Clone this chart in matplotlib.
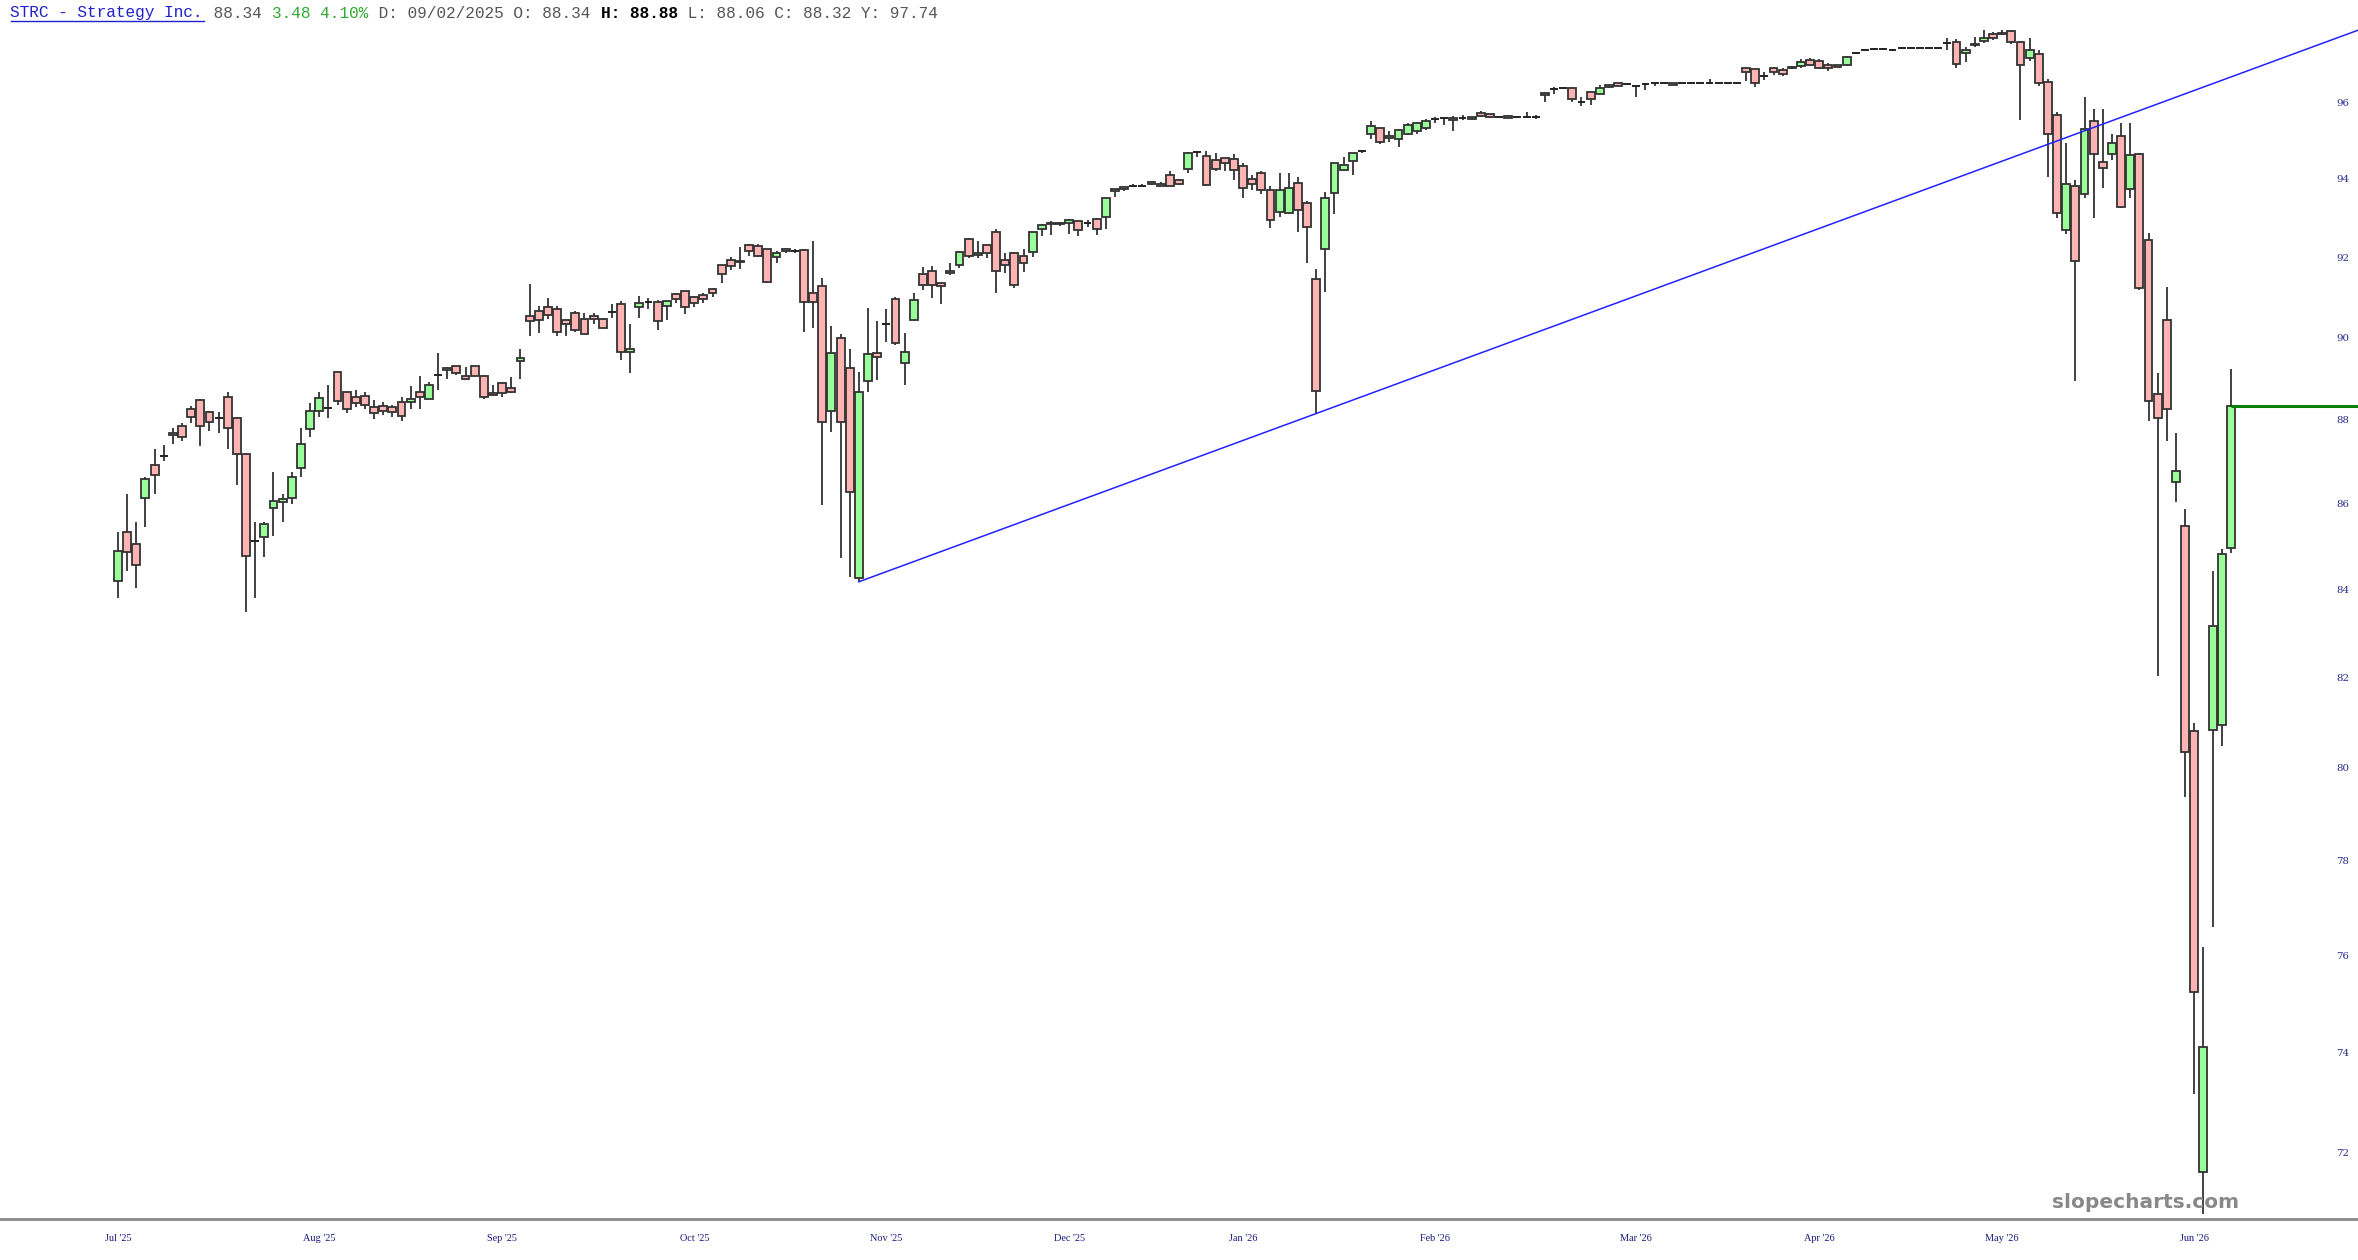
import numpy as np
import matplotlib
matplotlib.use("Agg")
import matplotlib.pyplot as plt
from matplotlib.patches import Rectangle
from matplotlib.ticker import NullLocator, NullFormatter

# daily OHLC, one value per trading session (index 1..232)
opens = [
    84.20, 85.33, 85.05, 86.14, 86.91, 87.13, 87.63, 87.85, 88.26, 88.47,
    88.18, 88.03, 88.54, 88.03, 87.18, 85.12, 85.22, 85.89, 86.04, 86.14,
    86.84, 87.78, 88.21, 88.29, 89.15, 88.66, 88.54, 88.57, 88.30, 88.34,
    88.30, 88.42, 88.42, 88.68, 88.51, 89.08, 89.20, 89.30, 89.07, 89.30,
    89.07, 88.65, 88.88, 88.78, 89.42, 90.54, 90.65, 90.77, 90.70, 90.43,
    90.61, 90.47, 90.54, 90.47, 90.63, 90.83, 89.65, 90.76, 90.89, 90.89,
    90.78, 91.08, 91.16, 91.02, 91.05, 91.20, 91.81, 91.93, 91.88, 92.32,
    92.30, 92.21, 92.00, 92.21, 92.17, 92.18, 91.12, 91.28, 88.20, 89.98,
    89.25, 84.26, 88.93, 89.62, 90.35, 90.96, 89.39, 90.44, 91.58, 91.67,
    91.35, 91.66, 91.80, 92.47, 92.05, 92.31, 92.65, 91.94, 92.12, 92.03,
    92.14, 92.71, 92.84, 92.88, 92.88, 92.91, 92.88, 92.97, 93.03, 93.68,
    93.74, 93.82, 93.83, 93.92, 93.83, 94.11, 93.98, 94.26, 94.70, 94.59,
    94.50, 94.53, 94.52, 94.34, 94.01, 94.14, 93.72, 93.15, 93.12, 93.90,
    93.37, 91.45, 92.22, 93.65, 94.22, 94.47, 94.71, 95.15, 95.32, 95.05,
    95.02, 95.16, 95.23, 95.31, 95.56, 95.59, 95.53, 95.59, 95.55, 95.72,
    95.68, 95.60, 95.59, 95.60, 95.60, 95.60, 96.19, 96.34, 96.38, 96.38,
    96.01, 96.26, 96.22, 96.39, 96.50, 96.47, 96.42, 96.48, 96.50, 96.51,
    96.46, 96.49, 96.49, 96.49, 96.49, 96.50, 96.50, 96.50, 96.90, 96.86,
    96.68, 96.89, 96.85, 96.92, 96.95, 97.10, 97.08, 96.97, 96.97, 96.97,
    97.30, 97.39, 97.41, 97.41, 97.39, 97.43, 97.44, 97.44, 97.44, 97.44,
    97.57, 97.60, 97.30, 97.50, 97.62, 97.80, 97.80, 97.88, 97.58, 97.16,
    97.28, 96.54, 95.67, 92.69, 93.81, 93.62, 95.50, 94.44, 94.65, 95.11,
    93.75, 94.65, 92.43, 88.63, 90.44, 86.52, 85.47, 80.80, 71.62, 80.84,
    80.95, 84.97,
]
highs = [
    85.34, 86.22, 85.56, 86.62, 87.29, 87.39, 87.80, 87.92, 88.34, 88.50,
    88.22, 88.19, 88.66, 88.06, 87.20, 85.56, 85.56, 86.75, 86.24, 86.75,
    87.80, 88.41, 88.66, 88.85, 89.17, 88.68, 88.71, 88.66, 88.47, 88.43,
    88.36, 88.56, 88.82, 89.07, 88.91, 89.62, 89.28, 89.31, 89.28, 89.31,
    89.08, 88.85, 88.91, 89.03, 89.73, 91.33, 90.79, 90.98, 90.79, 90.47,
    90.66, 90.60, 90.60, 90.48, 90.84, 90.90, 90.34, 91.03, 90.99, 90.93,
    90.92, 91.12, 91.17, 91.03, 91.12, 91.24, 91.82, 92.00, 92.27, 92.33,
    92.33, 92.22, 92.16, 92.24, 92.21, 92.20, 92.42, 91.48, 90.28, 90.09,
    89.73, 89.15, 90.73, 90.41, 90.71, 91.02, 90.12, 91.11, 91.77, 91.78,
    91.36, 91.85, 92.15, 92.48, 92.42, 92.32, 92.71, 92.11, 92.13, 92.22,
    92.65, 92.85, 92.91, 92.90, 92.98, 92.92, 92.95, 92.99, 93.51, 93.75,
    93.80, 93.86, 93.87, 93.95, 93.91, 94.21, 93.99, 94.69, 94.73, 94.73,
    94.68, 94.54, 94.64, 94.40, 94.10, 94.20, 93.81, 94.14, 94.14, 94.05,
    93.44, 91.72, 93.67, 94.42, 94.57, 94.68, 94.74, 95.50, 95.33, 95.24,
    95.29, 95.44, 95.48, 95.55, 95.60, 95.62, 95.63, 95.67, 95.61, 95.76,
    95.69, 95.63, 95.65, 95.61, 95.75, 95.65, 96.26, 96.40, 96.40, 96.39,
    96.14, 96.27, 96.45, 96.47, 96.51, 96.49, 96.43, 96.50, 96.53, 96.52,
    96.51, 96.50, 96.50, 96.50, 96.61, 96.51, 96.51, 96.51, 96.91, 96.87,
    96.80, 96.93, 96.91, 96.94, 97.13, 97.17, 97.15, 97.02, 96.99, 97.21,
    97.33, 97.41, 97.43, 97.43, 97.41, 97.45, 97.46, 97.46, 97.46, 97.46,
    97.70, 97.67, 97.45, 97.72, 97.91, 97.87, 97.91, 97.90, 97.63, 97.71,
    97.37, 96.60, 95.75, 94.94, 93.96, 96.14, 95.81, 95.81, 95.17, 95.44,
    95.46, 94.66, 92.62, 89.13, 91.27, 87.69, 85.87, 80.99, 76.16, 84.42,
    84.94, 89.22,
]
lows = [
    83.80, 84.44, 84.03, 85.46, 86.23, 87.00, 87.41, 87.49, 87.91, 87.38,
    87.72, 87.67, 87.29, 86.43, 83.49, 83.80, 84.76, 85.24, 85.58, 85.99,
    86.64, 87.58, 88.06, 88.03, 88.36, 88.16, 88.30, 88.25, 88.02, 88.12,
    88.07, 87.97, 88.26, 88.26, 88.50, 88.71, 88.98, 89.08, 88.97, 89.06,
    88.51, 88.57, 88.56, 88.65, 88.98, 90.05, 90.11, 90.46, 90.03, 90.05,
    90.13, 90.09, 90.35, 90.24, 90.48, 89.45, 89.14, 90.48, 90.71, 90.20,
    90.44, 90.87, 90.59, 90.76, 90.86, 91.02, 91.35, 91.68, 91.72, 92.04,
    92.02, 91.35, 91.87, 92.11, 92.11, 90.13, 90.25, 85.97, 87.70, 84.72,
    84.30, 84.18, 88.68, 88.96, 89.90, 89.81, 88.85, 90.42, 91.19, 90.99,
    90.83, 91.56, 91.73, 91.98, 91.98, 91.98, 91.11, 91.62, 91.23, 91.63,
    92.01, 92.53, 92.56, 92.80, 92.59, 92.53, 92.76, 92.56, 92.72, 93.54,
    93.68, 93.79, 93.81, 93.84, 93.81, 93.82, 93.84, 94.14, 94.57, 93.81,
    94.21, 94.21, 93.98, 93.50, 93.72, 93.60, 92.75, 93.03, 93.09, 92.65,
    91.85, 88.15, 91.14, 93.11, 94.20, 94.11, 94.68, 95.03, 94.90, 94.96,
    94.83, 95.14, 95.17, 95.27, 95.44, 95.40, 95.23, 95.53, 95.53, 95.62,
    95.58, 95.58, 95.58, 95.59, 95.58, 95.55, 96.01, 96.20, 96.35, 96.01,
    95.89, 95.91, 96.21, 96.38, 96.42, 96.45, 96.14, 96.31, 96.43, 96.50,
    96.45, 96.48, 96.48, 96.48, 96.48, 96.49, 96.49, 96.49, 96.55, 96.40,
    96.57, 96.71, 96.69, 96.87, 96.89, 96.96, 96.87, 96.83, 96.92, 96.96,
    97.26, 97.37, 97.39, 97.39, 97.37, 97.41, 97.42, 97.42, 97.42, 97.42,
    97.38, 96.90, 97.05, 97.47, 97.56, 97.64, 97.78, 97.53, 95.52, 97.08,
    96.41, 94.05, 92.99, 92.59, 88.93, 93.50, 92.99, 93.76, 94.48, 93.25,
    93.52, 91.18, 87.97, 82.04, 87.49, 86.04, 79.36, 73.16, 70.80, 76.58,
    80.48, 84.84,
]
closes = [
    84.89, 84.87, 84.56, 86.59, 86.68, 87.13, 87.67, 87.58, 88.07, 87.85,
    87.94, 88.03, 87.80, 87.18, 84.77, 85.12, 85.53, 86.07, 86.12, 86.62,
    87.41, 88.22, 88.52, 88.29, 88.46, 88.26, 88.40, 88.36, 88.16, 88.22,
    88.18, 88.08, 88.51, 88.56, 88.85, 89.08, 89.25, 89.13, 88.98, 89.07,
    88.54, 88.61, 88.64, 88.66, 89.49, 90.40, 90.44, 90.57, 90.15, 90.35,
    90.20, 90.10, 90.46, 90.25, 90.63, 89.65, 89.73, 90.87, 90.89, 90.40,
    90.92, 90.95, 90.76, 90.85, 90.97, 91.12, 91.58, 91.78, 91.90, 92.15,
    92.04, 91.39, 92.10, 92.15, 92.17, 90.89, 90.89, 87.94, 89.62, 87.94,
    86.27, 88.67, 89.60, 89.52, 90.35, 89.86, 89.64, 90.93, 91.30, 91.30,
    91.29, 91.61, 92.14, 92.03, 92.11, 92.11, 91.66, 91.81, 91.32, 91.86,
    92.64, 92.82, 92.88, 92.84, 92.96, 92.70, 92.88, 92.71, 93.50, 93.74,
    93.79, 93.82, 93.83, 93.87, 93.87, 93.83, 93.86, 94.68, 94.70, 93.85,
    94.26, 94.42, 94.22, 93.77, 93.88, 93.72, 92.96, 93.72, 93.77, 93.21,
    92.78, 88.70, 93.51, 94.42, 94.37, 94.68, 94.71, 95.38, 94.95, 95.10,
    95.26, 95.41, 95.44, 95.50, 95.56, 95.59, 95.58, 95.59, 95.60, 95.63,
    95.60, 95.60, 95.63, 95.60, 95.60, 95.60, 96.25, 96.34, 96.38, 96.08,
    96.01, 96.08, 96.36, 96.45, 96.43, 96.47, 96.42, 96.48, 96.50, 96.51,
    96.50, 96.49, 96.49, 96.49, 96.49, 96.50, 96.50, 96.50, 96.78, 96.51,
    96.68, 96.78, 96.74, 96.89, 97.05, 96.99, 96.89, 96.90, 96.93, 97.20,
    97.30, 97.39, 97.41, 97.41, 97.39, 97.43, 97.44, 97.44, 97.44, 97.44,
    97.57, 97.01, 97.39, 97.54, 97.70, 97.70, 97.84, 97.58, 96.97, 97.39,
    96.49, 95.16, 93.12, 93.88, 91.90, 95.30, 94.65, 94.28, 94.93, 93.27,
    94.62, 91.23, 88.46, 88.05, 88.26, 86.77, 80.35, 75.23, 74.11, 83.17,
    84.83, 88.32,
]

# month labels and the session they sit under
month_labels = ["Jul '25", "Aug '25", "Sep '25", "Oct '25", "Nov '25", "Dec '25",
                "Jan '26", "Feb '26", "Mar '26", "Apr '26", "May '26", "Jun '26"]
month_pos = [1, 23, 43, 64, 85, 105, 124, 145, 167, 187, 207, 228]

price_ticks = [72, 74, 76, 78, 80, 82, 84, 86, 88, 90, 92, 94, 96]

# trendline anchors (session, price) and last close marker
trend_a = (82, 84.18)
trend_b = (132, 88.15)
last_close = 88.32

x = np.arange(1, len(closes) + 1)

fig = plt.figure(figsize=(23.58, 12.60), dpi=100)
ax = fig.add_axes([0, 41 / 1260, 1, 1219 / 1260])

ax.set_yscale("log")
ax.set_xlim(-11.9, 245.9)
ax.set_ylim(70.70, 98.72)

edge = "#333333"
body_w = 0.86
for xi, o, h, l, c in zip(x, opens, highs, lows, closes):
    ax.vlines(xi, l, h, color=edge, lw=1.3, zorder=2)
    if c > o:
        ax.add_patch(Rectangle((xi - body_w / 2, o), body_w, c - o,
                               facecolor="#99ff99", edgecolor=edge, lw=1.3, zorder=3))
    elif c < o:
        ax.add_patch(Rectangle((xi - body_w / 2, c), body_w, o - c,
                               facecolor="#ffb3b3", edgecolor=edge, lw=1.3, zorder=3))
    else:
        ax.hlines(o, xi - body_w / 2, xi + body_w / 2, color="#222222", lw=1.4, zorder=3)

# blue trendline through the two lows, extended to the right edge
slope = (np.log(trend_b[1]) - np.log(trend_a[1])) / (trend_b[0] - trend_a[0])
tx = np.array([trend_a[0], 245.9])
ty = np.exp(np.log(trend_a[1]) + slope * (tx - trend_a[0]))
ax.plot(tx, ty, color="#2222ff", lw=1.1, zorder=4)

# green line at the last close
ax.hlines(last_close, x[-1], 245.9, color="#008000", lw=2.2, zorder=4)

# axes styling
for side in ["top", "left", "right"]:
    ax.spines[side].set_visible(False)
ax.spines["bottom"].set_color("#888888")
ax.spines["bottom"].set_linewidth(2.0)

ax.set_xticks(month_pos)
ax.set_xticklabels(month_labels, family="Liberation Serif", fontsize=7.4, color="#1a1a80")
ax.tick_params(axis="x", length=0, pad=11)

ax.yaxis.tick_right()
ax.yaxis.set_minor_locator(NullLocator())
ax.yaxis.set_minor_formatter(NullFormatter())
ax.set_yticks(price_ticks)
ax.set_yticklabels([str(v) for v in price_ticks], family="DejaVu Serif",
                   fontsize=7.4, color="#2b2b8c")
ax.tick_params(axis="y", length=0, pad=-11)
for lab in ax.get_yticklabels():
    lab.set_ha("center")

# watermark
fig.text(2146 / 2358, 1 - 1203 / 1260, "slopecharts.com", ha="center", va="center",
         fontsize=14.5, fontweight="bold", color="#888888", family="DejaVu Sans", zorder=1)

# header line, monospace so each piece is placed by character count
pieces = [
    ("STRC - Strategy Inc.", "#2020cc", "normal"),
    (" 88.34 ", "#555555", "normal"),
    ("3.48 4.10%", "#33aa33", "normal"),
    (" D: 09/02/2025 O: 88.34 ", "#555555", "normal"),
    ("H: 88.88", "#000000", "bold"),
    (" L: 88.06 C: 88.32 Y: 97.74", "#555555", "normal"),
]
char_w = 9.68
x0 = 10.5
pos = 0
for txt, col, wt in pieces:
    fig.text((x0 + pos * char_w) / 2358, 1 - 13 / 1260, txt, ha="left", va="center",
             family="Liberation Mono", fontsize=11.6, color=col, fontweight=wt)
    pos += len(txt)
fig.add_artist(plt.Line2D([x0 / 2358, (x0 + 20 * char_w) / 2358],
                          [1 - 21 / 1260, 1 - 21 / 1260], color="#2020cc", lw=1.0))

fig.savefig("out.png", dpi=100)
